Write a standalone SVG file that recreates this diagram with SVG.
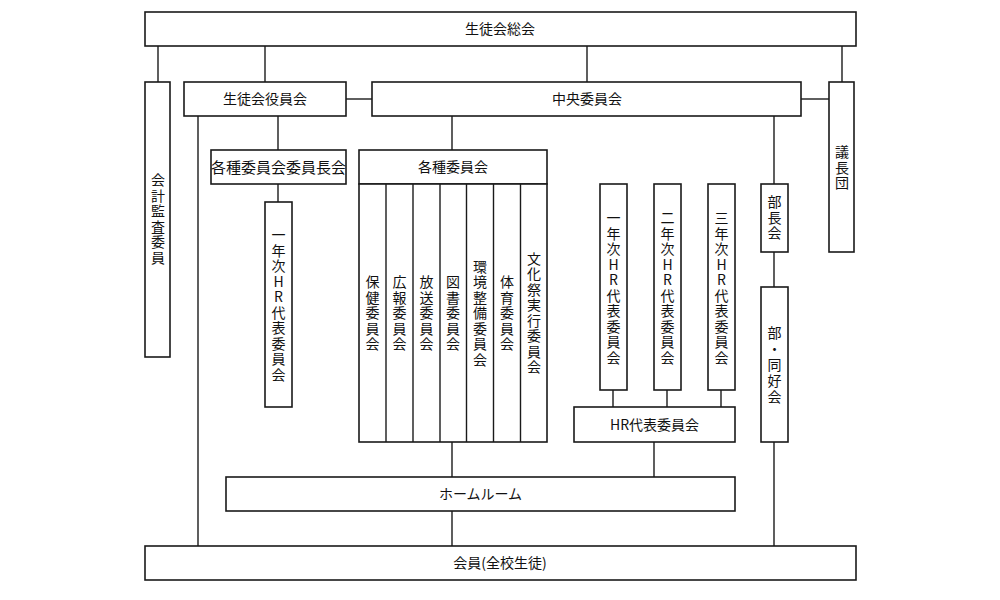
<svg xmlns="http://www.w3.org/2000/svg" width="1000" height="600" viewBox="0 0 1000 600">
<style>
.b{fill:#fff;stroke:#1a1a1a;stroke-width:1.6}
.c{stroke:#1a1a1a;stroke-width:1.4;fill:none}
text{font-family:"Noto Sans CJK JP","Noto Sans",sans-serif;font-size:14px;fill:#111;text-anchor:middle}
</style>
<rect width="1000" height="600" fill="#fff"/>
<g id="connectors" class="c">
<line x1="158" y1="46" x2="158" y2="82"/>
<line x1="265" y1="46" x2="265" y2="82"/>
<line x1="587" y1="46" x2="587" y2="82"/>
<line x1="842" y1="46" x2="842" y2="82"/>
<line x1="346" y1="99" x2="372" y2="99"/>
<line x1="801" y1="99" x2="829" y2="99"/>
<line x1="198" y1="116" x2="198" y2="546"/>
<line x1="278" y1="116" x2="278" y2="150"/>
<line x1="278" y1="184" x2="278" y2="202"/>
<line x1="452" y1="116" x2="452" y2="150"/>
<line x1="452" y1="442" x2="452" y2="477"/>
<line x1="452" y1="511" x2="452" y2="546"/>
<line x1="774" y1="116" x2="774" y2="184"/>
<line x1="774" y1="252" x2="774" y2="287"/>
<line x1="774" y1="442" x2="774" y2="546"/>
<line x1="613" y1="390" x2="613" y2="407"/>
<line x1="667" y1="390" x2="667" y2="407"/>
<line x1="721" y1="390" x2="721" y2="407"/>
<line x1="654" y1="442" x2="654" y2="477"/>
</g>
<g id="soukai"><rect class="b" x="145" y="12" width="711" height="34"/><text x="500" y="34">生徒会総会</text></g>
<g id="kaikei"><rect class="b" x="145" y="82" width="25" height="275"/>
<text x="158 158 158 158 158 158" y="185 200.5 216 231.5 247 262.5">会計監査委員</text></g>
<g id="yakuin"><rect class="b" x="184" y="82" width="162" height="34"/><text x="265" y="104">生徒会役員会</text></g>
<g id="chuo"><rect class="b" x="372" y="82" width="429" height="34"/><text x="587" y="104">中央委員会</text></g>
<g id="gichodan"><rect class="b" x="829" y="82" width="25" height="170"/>
<text x="842 842 842" y="157 172.5 188">議長団</text></g>
<g id="iinchokai"><rect class="b" x="211" y="150" width="135" height="34"/><text x="278.5" y="172.5" style="font-size:15px">各種委員会委員長会</text></g>
<g id="hr1left"><rect class="b" x="265" y="202" width="27" height="205"/>
<text x="278.5 278.5 278.5 278.5 278.5 278.5 278.5 278.5 278.5 278.5" y="240 255.5 271 286.5 302 317.5 333 348.5 364 379.5">一年次HR代表委員会</text></g>
<g id="kakushu"><rect class="b" x="359" y="150" width="188" height="34"/><text x="453" y="172">各種委員会</text>
<rect class="b" x="359" y="184" width="188" height="258"/>
<line class="c" x1="386" y1="184" x2="386" y2="442"/>
<line class="c" x1="413" y1="184" x2="413" y2="442"/>
<line class="c" x1="440" y1="184" x2="440" y2="442"/>
<line class="c" x1="466.5" y1="184" x2="466.5" y2="442"/>
<line class="c" x1="493.5" y1="184" x2="493.5" y2="442"/>
<line class="c" x1="520.5" y1="184" x2="520.5" y2="442"/>
</g>
<g id="hoken"><text x="372.5 372.5 372.5 372.5 372.5" y="287 302.5 318 333.5 349">保健委員会</text></g>
<g id="koho"><text x="399.5 399.5 399.5 399.5 399.5" y="287 302.5 318 333.5 349">広報委員会</text></g>
<g id="hoso"><text x="426.5 426.5 426.5 426.5 426.5" y="287 302.5 318 333.5 349">放送委員会</text></g>
<g id="tosho"><text x="453 453 453 453 453" y="287 302.5 318 333.5 349">図書委員会</text></g>
<g id="kankyo"><text x="480 480 480 480 480 480 480" y="271.5 287 302.5 318 333.5 349 364.5">環境整備委員会</text></g>
<g id="taiiku"><text x="507 507 507 507 507" y="287 302.5 318 333.5 349">体育委員会</text></g>
<g id="bunkasai"><text x="534 534 534 534 534 534 534 534" y="263.75 279.25 294.75 310.25 325.75 341.25 356.75 372.25">文化祭実行委員会</text></g>
<g id="hr1"><rect class="b" x="600" y="184" width="27" height="206"/>
<text x="613.5 613.5 613.5 613.5 613.5 613.5 613.5 613.5 613.5 613.5" y="223 238.5 254 269.5 285 300.5 316 331.5 347 362.5">一年次HR代表委員会</text></g>
<g id="hr2"><rect class="b" x="654" y="184" width="27" height="206"/>
<text x="667.5 667.5 667.5 667.5 667.5 667.5 667.5 667.5 667.5 667.5" y="223 238.5 254 269.5 285 300.5 316 331.5 347 362.5">二年次HR代表委員会</text></g>
<g id="hr3"><rect class="b" x="708" y="184" width="27" height="206"/>
<text x="721.5 721.5 721.5 721.5 721.5 721.5 721.5 721.5 721.5 721.5" y="223 238.5 254 269.5 285 300.5 316 331.5 347 362.5">三年次HR代表委員会</text></g>
<g id="hrdaihyo"><rect class="b" x="574" y="407" width="161" height="35"/><text x="654.5" y="429.5">HR代表委員会</text></g>
<g id="buchokai"><rect class="b" x="761" y="184" width="27" height="68"/>
<text x="774.5 774.5 774.5" y="207 222.5 238">部長会</text></g>
<g id="budokokai"><rect class="b" x="761" y="287" width="27" height="155"/>
<text x="774.5 774.5 774.5 774.5 774.5" y="338 354 370 386 402">部・同好会</text></g>
<g id="homeroom"><rect class="b" x="226" y="477" width="509" height="34"/><text x="480.5" y="499">ホームルーム</text></g>
<g id="kaiin"><rect class="b" x="145" y="546" width="711" height="34"/><text x="500" y="568">会員(全校生徒)</text></g>
</svg>
